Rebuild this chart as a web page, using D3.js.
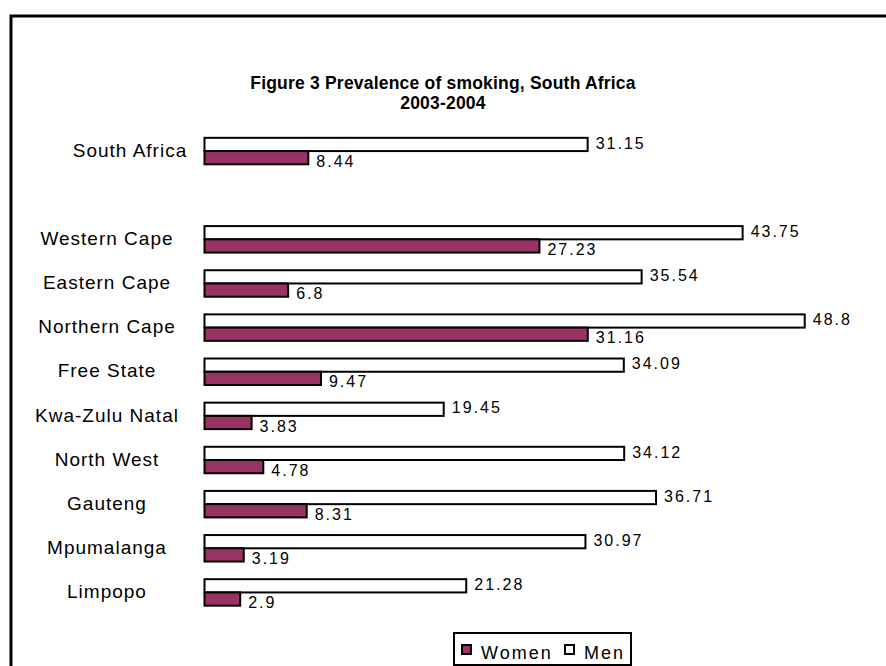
<!DOCTYPE html>
<html>
<head>
<meta charset="utf-8">
<script src="https://cdn.jsdelivr.net/npm/d3@7"></script>
<style>
  body { margin: 0; background: #fff; }
  text { font-family: Arial, "Liberation Sans", sans-serif; fill: #000; }
</style>
</head>
<body>
<div id="chart"></div>
<script>
// categories, top to bottom ("" is the empty gap row)
var regions = ["South Africa", "", "Western Cape", "Eastern Cape", "Northern Cape", "Free State",
    "Kwa-Zulu Natal", "North West", "Gauteng", "Mpumalanga", "Limpopo"];
var men   = [31.15, null, 43.75, 35.54, 48.8, 34.09, 19.45, 34.12, 36.71, 30.97, 21.28];
var women = [8.44, null, 27.23, 6.8, 31.16, 9.47, 3.83, 4.78, 8.31, 3.19, 2.9];
var seriesNames = ["Men", "Women"];
var legendOrder = ["Women", "Men"];
var colors = {Women: "#993366", Men: "#ffffff"};

var width = 886, height = 666;

var svg = d3.select("#chart")
    .append("svg")
    .attr("width", width)
    .attr("height", height);

// outer chart frame (runs off the right and bottom)
svg.append("rect")
    .attr("x", 11).attr("y", 16)
    .attr("width", 900).attr("height", 700)
    .attr("fill", "none")
    .attr("stroke", "#000")
    .attr("stroke-width", 3);

// title
svg.append("text")
    .attr("x", 443).attr("y", 89)
    .attr("text-anchor", "middle")
    .style("font-weight", "bold").style("font-size", "17.5px")
    .style("letter-spacing", "0.2px")
    .text("Figure 3 Prevalence of smoking, South Africa");
svg.append("text")
    .attr("x", 443).attr("y", 109)
    .attr("text-anchor", "middle")
    .style("font-weight", "bold").style("font-size", "17.5px")
    .style("letter-spacing", "0.2px")
    .text("2003-2004");

var x = d3.scaleLinear()
    .domain([0, 50])
    .range([204.5, 819.5]);

var y = d3.scaleBand()
    .domain(d3.range(regions.length))
    .range([128, 613.5])
    .paddingInner(0.4)
    .paddingOuter(0.2);

var ySub = d3.scaleBand()
    .domain(seriesNames)
    .range([0, y.bandwidth()]);

var rows = regions.map(function(r, i) {
    return {i: i, name: r, Men: men[i], Women: women[i]};
});

// category labels
svg.append("g").selectAll("text")
    .data(rows.filter(function(d) { return d.name !== ""; }))
    .enter()
    .append("text")
    .attr("x", function(d) { return d.i === 0 ? 130 : 107; })
    .attr("y", function(d) { return y(d.i) + y.bandwidth() / 2; })
    .attr("dy", "0.35em")
    .attr("text-anchor", "middle")
    .style("font-size", "19px")
    .style("letter-spacing", "1px")
    .text(function(d) { return d.name; });

// bars
var groups = svg.append("g").selectAll("g")
    .data(rows.filter(function(d) { return d.Men != null; }))
    .enter()
    .append("g")
    .attr("transform", function(d) { return "translate(0," + y(d.i) + ")"; });

groups.selectAll("rect")
    .data(function(d) { return seriesNames.map(function(s) { return {s: s, v: d[s]}; }); })
    .enter()
    .append("rect")
    .attr("x", x(0))
    .attr("y", function(d) { return ySub(d.s) + 1; })
    .attr("width", function(d) { return x(d.v) - x(0); })
    .attr("height", ySub.bandwidth())
    .attr("fill", function(d) { return colors[d.s]; })
    .attr("stroke", "#000")
    .attr("stroke-width", 2);

groups.selectAll("text")
    .data(function(d) { return seriesNames.map(function(s) { return {s: s, v: d[s]}; }); })
    .enter()
    .append("text")
    .attr("x", function(d) { return x(d.v) + 8; })
    .attr("y", function(d) {
        return ySub(d.s) + ySub.bandwidth() / 2 + (d.s === "Women" ? 4.5 : -0.5);
    })
    .attr("dy", "0.35em")
    .style("font-size", "16px")
    .style("letter-spacing", "2px")
    .text(function(d) { return d.v; });

// legend
var legend = svg.append("g").attr("transform", "translate(454,633)");
legend.append("rect")
    .attr("width", 177).attr("height", 32)
    .attr("fill", "#fff")
    .attr("stroke", "#000")
    .attr("stroke-width", 2);

var legendX = {Women: 8, Men: 111};
legendOrder.forEach(function(s) {
    legend.append("rect")
        .attr("x", legendX[s]).attr("y", 12)
        .attr("width", 9).attr("height", 9)
        .attr("fill", colors[s])
        .attr("stroke", "#000")
        .attr("stroke-width", 2);
    legend.append("text")
        .attr("x", legendX[s] + 19).attr("y", 20)
        .attr("dy", "0.35em")
        .style("font-size", "18px")
        .style("letter-spacing", "2px")
        .text(s);
});
</script>
</body>
</html>
